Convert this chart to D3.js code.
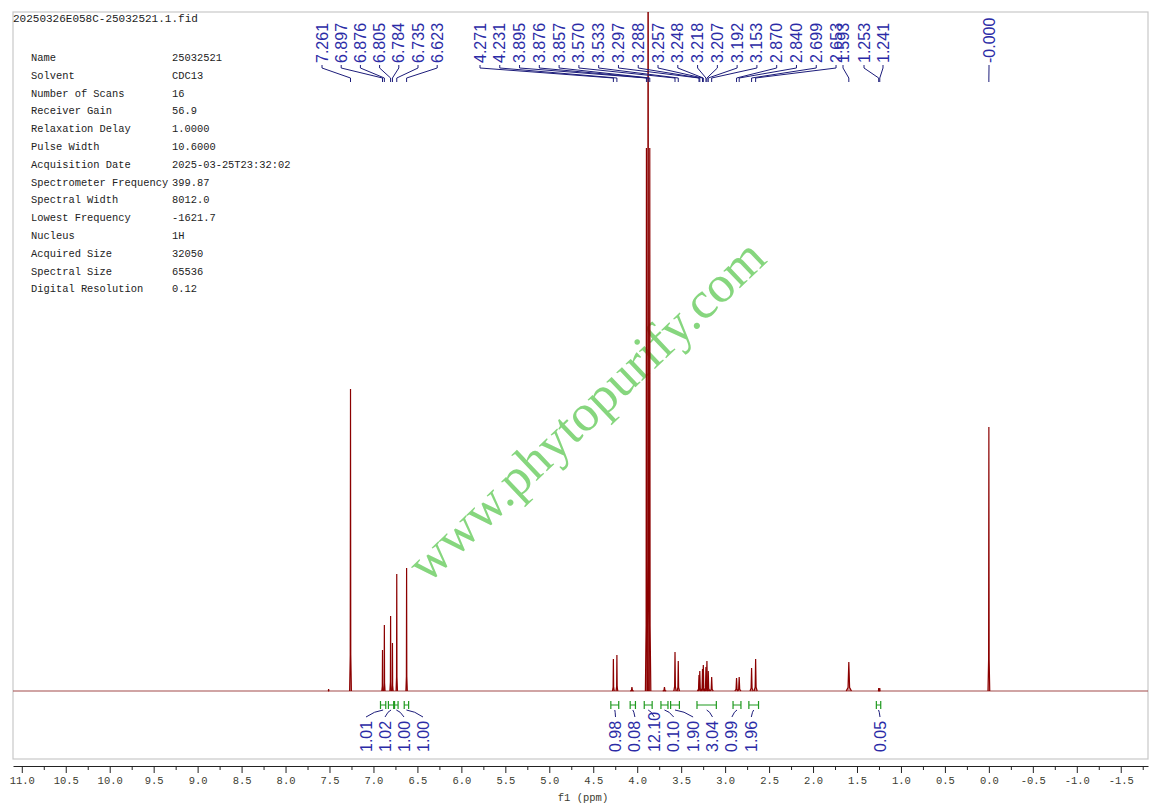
<!DOCTYPE html>
<html>
<head>
<meta charset="utf-8">
<script src="https://cdn.jsdelivr.net/npm/d3@7"></script>
<style>
  body { margin: 0; background: #fff; }
  svg { display: block; }
</style>
</head>
<body>
<svg id="chart" width="1161" height="811"></svg>
<script>
// ---- data ----
const fileName = '20250326E058C-25032521.1.fid'

const paramNames = ['Name', 'Solvent', 'Number of Scans', 'Receiver Gain', 'Relaxation Delay',
    'Pulse Width', 'Acquisition Date', 'Spectrometer Frequency', 'Spectral Width',
    'Lowest Frequency', 'Nucleus', 'Acquired Size', 'Spectral Size', 'Digital Resolution']
const paramValues = ['25032521', 'CDC13', '16', '56.9', '1.0000', '10.6000', '2025-03-25T23:32:02',
    '399.87', '8012.0', '-1621.7', '1H', '32050', '65536', '0.12']

// peaks: position (ppm), height above baseline, half base width (ppm)
const peakPpm = [7.510, 7.261, 6.897, 6.876, 6.805, 6.784, 6.735, 6.623,
    4.271, 4.231, 4.060, 3.895, 3.876, 3.857, 3.690, 3.570, 3.533,
    3.297, 3.288, 3.257, 3.248, 3.218, 3.207, 3.192, 3.153,
    2.870, 2.840, 2.699, 2.653, 1.593, 1.253, 1.241, 0.000]
const peakHeight = [2, 302, 41, 66, 75, 48, 117, 123,
    32, 36, 4, 543, 1100, 543, 4, 39, 30,
    16, 20, 22, 26, 24, 30, 20, 14,
    13, 14, 23, 32, 29, 3, 3, 264]
const peakWidth = [0.008, 0.010, 0.008, 0.008, 0.008, 0.008, 0.008, 0.008,
    0.010, 0.010, 0.020, 0.012, 0.012, 0.012, 0.020, 0.014, 0.014,
    0.018, 0.018, 0.018, 0.018, 0.018, 0.018, 0.018, 0.018,
    0.020, 0.020, 0.018, 0.018, 0.030, 0.008, 0.008, 0.010]

// peak labels (top), in groups
const shiftGroupA = ['7.261', '6.897', '6.876', '6.805', '6.784', '6.735', '6.623']
const shiftGroupB = ['4.271', '4.231', '3.895', '3.876', '3.857', '3.570', '3.533', '3.297', '3.288',
    '3.257', '3.248', '3.218', '3.207', '3.192', '3.153', '2.870', '2.840', '2.699', '2.653']
const shiftGroupC = ['1.593']
const shiftGroupD = ['1.253', '1.241']
const shiftGroupE = ['0.000']

// integrals (bottom)
const integralFrom = [6.92, 6.83, 6.76, 6.65, 4.30, 4.08, 3.92, 3.73, 3.62, 3.32, 2.91, 2.73, 1.28]
const integralTo = [6.86, 6.77, 6.72, 6.60, 4.21, 4.02, 3.83, 3.65, 3.52, 3.10, 2.82, 2.62, 1.23]
const integralValue = ['1.01', '1.02', '1.00', '1.00', '0.98', '0.08', '12.10', '0.10',
    '1.90', '3.04', '0.99', '1.96', '0.05']

const axisTicks = d3.range(22, -4, -1).map(d => d / 2)   // 11.0 ... -1.5


// ---- layout ----
const frame = { left: 13, top: 12, right: 1148, bottom: 759 }
const baseY = 691
const axisY = 766

const svg = d3.select('#chart')

const x = d3.scaleLinear().domain([11.1, -1.81]).range([frame.left, frame.right])
const y = d3.scaleLinear().domain([0, 679]).range([baseY, frame.top])

svg.append('defs').append('clipPath').attr('id', 'plotClip')
    .append('rect')
    .attr('x', frame.left).attr('y', frame.top)
    .attr('width', frame.right - frame.left).attr('height', frame.bottom - frame.top)

// frame
svg.append('rect')
    .attr('x', frame.left).attr('y', frame.top)
    .attr('width', frame.right - frame.left).attr('height', frame.bottom - frame.top)
    .attr('fill', 'none').attr('stroke', '#c8c8c8').attr('stroke-width', 1.2)

// watermark, sits behind the spectrum
svg.append('text')
    .attr('transform', 'translate(586,410) rotate(-43.5)')
    .attr('text-anchor', 'middle')
    .attr('dominant-baseline', 'central')
    .attr('font-family', 'Liberation Serif, serif')
    .attr('font-size', 52)
    .attr('textLength', 470)
    .attr('lengthAdjust', 'spacingAndGlyphs')
    .attr('fill', '#86d67e')
    .text('www.phytopurify.com')

// title + parameter table
const mono = 'Liberation Mono, DejaVu Sans Mono, monospace'
svg.append('text')
    .attr('x', 13).attr('y', 22)
    .attr('font-family', mono).attr('font-size', 11).attr('fill', '#222')
    .text(fileName)

const params = svg.append('g').attr('font-family', mono).attr('font-size', 10.4).attr('fill', '#222')
paramNames.forEach((name, i) => {
    const rowY = 61 + i * 17.8
    params.append('text').attr('x', 31).attr('y', rowY).text(name)
    params.append('text').attr('x', 172).attr('y', rowY).text(paramValues[i])
})

// spectrum
const spec = svg.append('g').attr('clip-path', 'url(#plotClip)')
const line = d3.line().x(d => x(d[0])).y(d => y(d[1]))

spec.append('path')
    .attr('d', line([[x.domain()[0], 0], [x.domain()[1], 0]]))
    .attr('stroke', '#a24a4a').attr('stroke-width', 1.2).attr('fill', 'none')

peakPpm.forEach((p, i) => {
    const w = peakWidth[i], h = peakHeight[i]
    spec.append('path')
        .attr('d', line([[p + w, 0], [p + w * 0.3, h * 0.12], [p, h], [p - w * 0.3, h * 0.12], [p - w, 0]]))
        .attr('stroke', '#8b0000').attr('stroke-width', 1.2)
        .attr('fill', '#8b0000').attr('fill-opacity', 0.4)
})

// peak labels on top
const labelFont = 'Liberation Sans, Arial, sans-serif'
const topLabels = svg.append('g')

function drawShiftGroup(values, startX, step) {
    values.forEach((v, i) => {
        const lx = startX + i * step
        const px = x(+v)
        topLabels.append('path')
            .attr('d', `M${lx},65 V68 L${px},78 V82`)
            .attr('fill', 'none').attr('stroke', '#1c1c7a').attr('stroke-width', 1)
        topLabels.append('text')
            .attr('transform', `translate(${lx},${63}) rotate(-90)`)
            .attr('dominant-baseline', 'central')
            .attr('font-family', labelFont).attr('font-size', 16)
            .attr('fill', '#2b2ba6')
            .text(v === '0.000' ? '-0.000' : v)
    })
}
drawShiftGroup(shiftGroupA, 322, 19.2)
drawShiftGroup(shiftGroupB, 480, 19.78)
drawShiftGroup(shiftGroupC, 843, 0)
drawShiftGroup(shiftGroupD, 864, 19)
drawShiftGroup(shiftGroupE, 989, 0)

// integrals
const integ = svg.append('g')
const integralLabelX = i => i < 4 ? 366 + i * 19 : (i < 12 ? 615.5 + (i - 4) * 19.4 : 880)

integralValue.forEach((v, i) => {
    const x1 = x(integralFrom[i]), x2 = x(integralTo[i])
    const cx = (x1 + x2) / 2
    const lx = integralLabelX(i)
    integ.append('path')
        .attr('d', `M${x1},701 V709 M${x1},705 H${x2} M${x2},701 V709`)
        .attr('fill', 'none').attr('stroke', '#1f9a1f').attr('stroke-width', 1.2)
    integ.append('path')
        .attr('d', `M${cx},710 Q${(cx + lx) / 2},711 ${lx},717`)
        .attr('fill', 'none').attr('stroke', '#1c1c7a').attr('stroke-width', 1)
    integ.append('text')
        .attr('transform', `translate(${lx},752) rotate(-90)`)
        .attr('dominant-baseline', 'central')
        .attr('font-family', labelFont).attr('font-size', 16)
        .attr('fill', '#2b2ba6')
        .text(v)
})

// x axis
const axisG = svg.append('g').attr('transform', `translate(0,${axisY})`)
axisG.call(d3.axisBottom(x)
    .tickValues(axisTicks)
    .tickSize(7)
    .tickSizeOuter(0)
    .tickPadding(4)
    .tickFormat(d3.format('.1f')))
axisG.selectAll('text')
    .attr('font-family', mono).attr('font-size', 10.5).attr('fill', '#3c3c30')
    .text(d => d3.format('.1f')(d).replace('\u2212', '-'))
axisG.selectAll('line, path').attr('stroke', '#222')

const minorG = svg.append('g').attr('transform', `translate(0,${axisY})`)
minorG.call(d3.axisBottom(x)
    .tickValues(axisTicks.map(d => d - 0.25).filter(d => d > -1.8))
    .tickSize(4)
    .tickFormat(''))
minorG.select('.domain').remove()
minorG.selectAll('line').attr('stroke', '#222')

svg.append('text')
    .attr('x', 583).attr('y', 801)
    .attr('text-anchor', 'middle')
    .attr('font-family', mono).attr('font-size', 10.5).attr('fill', '#3c3c30')
    .text('f1 (ppm)')
</script>
</body>
</html>
